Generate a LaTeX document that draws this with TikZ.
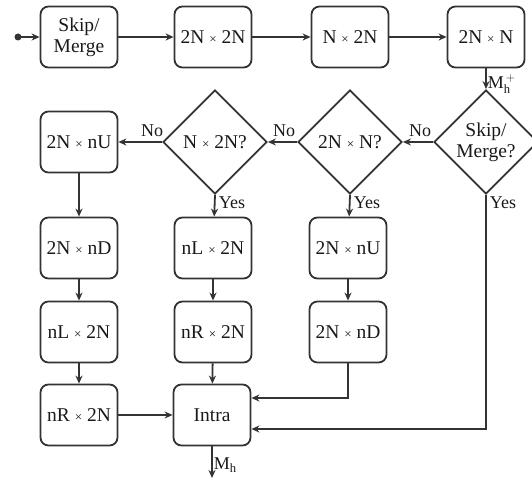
\documentclass[tikz,border=0pt]{standalone}
\usepackage{fontspec}
\setmainfont{Liberation Serif}
\usepackage{tikz}
\usetikzlibrary{arrows.meta, positioning, calc, shapes.geometric}
\newcommand{\bytimes}{{\fontsize{13}{13}\selectfont ×}}

\begin{document}
\begin{tikzpicture}[
    x=1pt, y=-1pt,
    >={Stealth[length=8pt, width=7pt]},
    line width=1.8pt, black!80,
    every node/.style={font=\fontsize{19.5}{21}\selectfont, text=black!90},
    blk/.style={draw, rounded corners=8pt, minimum width=77pt, minimum height=61pt, inner sep=1pt, align=center},
    dec/.style={draw, diamond, aspect=1, minimum width=104pt, minimum height=104pt, inner sep=0pt, align=center},
    lbl/.style={font=\fontsize{18}{19}\selectfont, inner sep=1pt},
]
    \useasboundingbox (0,0) rectangle (532,487);

    % Top row
    \node[blk] (skip) at (79,37)  {Skip/\\Merge};
    \node[blk] (sq)   at (213,37) {2N \bytimes{} 2N};
    \node[blk] (vert) at (350,37) {N \bytimes{} 2N};
    \node[blk] (hor)  at (486,37) {2N \bytimes{} N};

    % Decisions
    \node[dec] (dskip) at (486,142) {Skip/\\Merge?};
    \node[dec] (dhor)  at (350,142) {2N \bytimes{} N?};
    \node[dec] (dvert) at (215,142) {N \bytimes{} 2N?};

    % Left column
    \node[blk] (nu1) at (79,142) {2N \bytimes{} nU};
    \node[blk] (nd1) at (79,248) {2N \bytimes{} nD};
    \node[blk] (nl1) at (79,332) {nL \bytimes{} 2N};
    \node[blk] (nr1) at (79,415) {nR \bytimes{} 2N};

    % Middle column
    \node[blk] (nl2)   at (213,248) {nL \bytimes{} 2N};
    \node[blk] (nr2)   at (213,332) {nR \bytimes{} 2N};
    \node[blk] (intra) at (212,415) {Intra};

    % Right column
    \node[blk] (nu2) at (348,248) {2N \bytimes{} nU};
    \node[blk] (nd2) at (348,332) {2N \bytimes{} nD};

    % Input and output
    \fill (18,37) circle (3.5pt);
    \coordinate (in) at (18,37);
    \coordinate (out) at (212,478);

    \draw[->] (in) -- (skip);
    \draw[->] (skip) -- (sq);
    \draw[->] (sq) -- (vert);
    \draw[->] (vert) -- (hor);
    \draw[->] (hor) -- node[lbl, right, pos=0.75] {M$_\mathrm{h}^{\,+}$} (dskip);

    % No branches
    \draw[->] (dskip.west) -- (dhor.east) node[lbl, pos=0, anchor=south east, yshift=3pt] {No};
    \draw[->] (dhor.west) -- (dvert.east) node[lbl, pos=0, anchor=south east, yshift=3pt] {No};
    \draw[->] (dvert.west) -- (nu1.east) node[lbl, pos=0, anchor=south east, xshift=3pt, yshift=3pt] {No};

    % Yes branches
    \draw[->] (dvert.south) -- (nl2) node[lbl, pos=0, anchor=north west, xshift=2pt] {Yes};
    \draw[->] (dhor.south) -- (nu2) node[lbl, pos=0, anchor=north west, xshift=2pt] {Yes};
    \draw[->] (dskip.south) node[lbl, anchor=north west, xshift=2pt] {Yes}
        |- ($(intra.east)+(0,14)$);

    % Chains
    \draw[->] (nu1) -- (nd1);
    \draw[->] (nd1) -- (nl1);
    \draw[->] (nl1) -- (nr1);
    \draw[->] (nl2) -- (nr2);
    \draw[->] (nr2) -- (intra);
    \draw[->] (nu2) -- (nd2);
    \draw[->] (nr1) -- (intra);
    \draw[->] (nd2.south) |- ($(intra.east)+(0,-17)$);

    \draw[->] (intra) -- (out) node[lbl, right, pos=0.6] {M$_\mathrm{h}$};
\end{tikzpicture}
\end{document}
